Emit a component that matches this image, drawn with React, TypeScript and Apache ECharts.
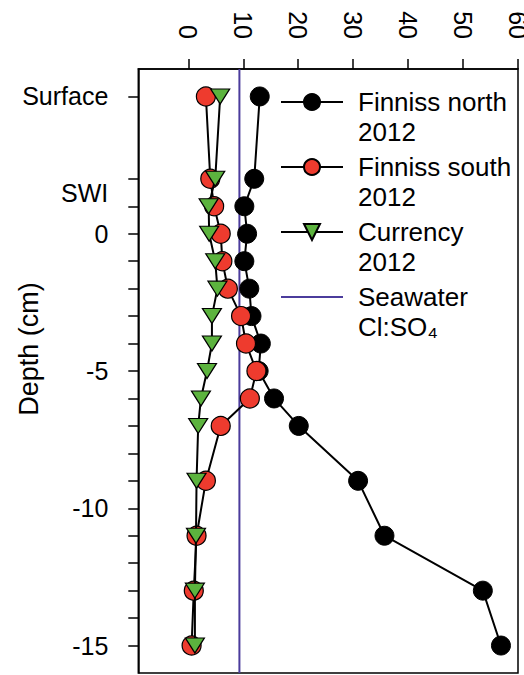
import React, { useEffect, useRef } from "react";
import * as echarts from "echarts";

// Depth of each sample (cm); 5 = surface water, 2 = SWI
const DEPTHS = [5, 2, 1, 0, -1, -2, -3, -4, -5, -6, -7, -9, -11, -13, -15];
// Cl:SO4 ratios
const FINNISS_NORTH = [13.0, 12.0, 10.2, 10.7, 10.2, 11.1, 11.5, 13.2, 12.8, 15.6, 20.1, 30.9, 35.7, 53.6, 56.9];
const FINNISS_SOUTH = [3.2, 4.0, 4.7, 5.9, 6.2, 7.2, 9.6, 10.5, 12.4, 11.2, 5.9, 3.2, 1.5, 1.0, 0.6];
const CURRENCY = [5.8, 4.9, 3.7, 3.8, 4.9, 5.3, 4.3, 4.3, 3.4, 2.3, 1.8, 1.5, 1.4, 1.2, 1.2];
const SEAWATER_RATIO = 9.3;

const SERIES_NAMES = [
  "Finniss north\n2012",
  "Finniss south\n2012",
  "Currency\n2012",
  "Seawater\nCl:SO\u2084",
];

const X_TICKS = [0, 10, 20, 30, 40, 50, 60];
const Y_TICKS = [5, 2, 1, 0, -1, -2, -3, -4, -5, -6, -7, -8, -9, -10, -11, -12, -13, -14, -15];
const Y_LABEL_VALUES = [5, 1.5, 0, -5, -10, -15];
const Y_LABEL_TEXTS = ["Surface", "SWI", "0", "-5", "-10", "-15"];

const X_MIN = -9.1;
const X_MAX = 60;
const Y_MIN = -16;
const Y_MAX = 6;

const FONT = "'Liberation Sans', Arial, Helvetica, sans-serif";

const pair = (xs: number[]) => xs.map((x, i) => [x, DEPTHS[i]]);

export default function App() {
  const ref = useRef<HTMLDivElement>(null);

  useEffect(() => {
    if (!ref.current) return;
    const chart = echarts.init(ref.current, undefined, { renderer: "svg" });

    const option: any = {
      animation: false,
      backgroundColor: "#fff",
      textStyle: { fontFamily: FONT, color: "#000" },
      grid: {
        left: 138.3,
        right: 6,
        top: 69,
        bottom: 2,
        show: true,
        borderColor: "#000",
        borderWidth: 1.5,
        containLabel: false,
        outerBoundsMode: "none",
      },
      xAxis: {
        type: "value",
        position: "top",
        min: X_MIN,
        max: X_MAX,
        axisLine: { show: true, onZero: false, lineStyle: { color: "#000", width: 1.5 } },
        axisTick: {
          show: true,
          inside: false,
          length: 10,
          customValues: X_TICKS,
          lineStyle: { color: "#000", width: 1.5 },
        },
        axisLabel: {
          customValues: X_TICKS,
          rotate: 90,
          margin: 30,
          fontSize: 25,
          color: "#000",
          fontFamily: FONT,
          padding: [0, 0, 9, 0],
        },
        splitLine: { show: false },
      },
      yAxis: {
        type: "value",
        min: Y_MIN,
        max: Y_MAX,
        name: "Depth (cm)",
        nameLocation: "middle",
        nameGap: 96,
        nameMoveOverlap: false,
        nameTextStyle: {
          fontSize: 27,
          color: "#000",
          fontFamily: FONT,
          padding: [0, 0, 0, 44],
        },
        axisLine: { show: true, onZero: false, lineStyle: { color: "#000", width: 1.5 } },
        axisTick: {
          show: true,
          inside: false,
          length: 10,
          customValues: Y_TICKS,
          lineStyle: { color: "#000", width: 1.5 },
        },
        axisLabel: {
          customValues: Y_LABEL_VALUES,
          margin: 30,
          fontSize: 25,
          color: "#000",
          fontFamily: FONT,
          formatter: (v: number) => {
            const i = Y_LABEL_VALUES.findIndex((y) => Math.abs(y - v) < 1e-6);
            return i >= 0 ? Y_LABEL_TEXTS[i] : "";
          },
        },
        splitLine: { show: false },
      },
      legend: {
        data: [
          { name: SERIES_NAMES[0] },
          { name: SERIES_NAMES[1] },
          { name: SERIES_NAMES[2] },
          {
            name: SERIES_NAMES[3],
            itemStyle: { color: "rgba(0,0,0,0)", borderColor: "rgba(0,0,0,0)", borderWidth: 0 },
          },
        ],
        orient: "vertical",
        left: 280,
        top: 57,
        padding: 0,
        itemWidth: 62,
        itemHeight: 20,
        itemGap: -25,
        selectedMode: false,
        formatter: (name: string) => "\n" + name,
        textStyle: {
          fontFamily: FONT,
          fontSize: 26,
          color: "#000",
          lineHeight: 30,
          padding: [0, 0, 0, 10],
        },
      },
      series: [
        {
          name: SERIES_NAMES[3],
          type: "line",
          data: [
            [SEAWATER_RATIO, Y_MAX],
            [SEAWATER_RATIO, Y_MIN],
          ],
          symbol: "none",
          lineStyle: { color: "#4b3c9c", width: 2 },
          itemStyle: { color: "#4b3c9c" },
          z: 1,
        },
        {
          name: SERIES_NAMES[0],
          type: "line",
          data: pair(FINNISS_NORTH),
          symbol: "circle",
          symbolSize: 19,
          lineStyle: { color: "#000", width: 2 },
          itemStyle: { color: "#000", borderColor: "#000", borderWidth: 1 },
          z: 2,
        },
        {
          name: SERIES_NAMES[1],
          type: "line",
          data: pair(FINNISS_SOUTH),
          symbol: "circle",
          symbolSize: 19,
          lineStyle: { color: "#000", width: 2 },
          itemStyle: { color: "#ee3b2e", borderColor: "#000", borderWidth: 1.2 },
          z: 3,
        },
        {
          name: SERIES_NAMES[2],
          type: "line",
          data: pair(CURRENCY),
          symbol: "triangle",
          symbolRotate: 180,
          symbolSize: [19, 15],
          lineStyle: { color: "#000", width: 2 },
          itemStyle: { color: "#5cb33e", borderColor: "#000", borderWidth: 1.2 },
          z: 4,
        },
      ],
    };

    chart.setOption(option);
    return () => chart.dispose();
  }, []);

  return (
    <div
      ref={ref}
      style={{ position: "fixed", left: 0, top: 0, width: 524, height: 675 }}
    />
  );
}
